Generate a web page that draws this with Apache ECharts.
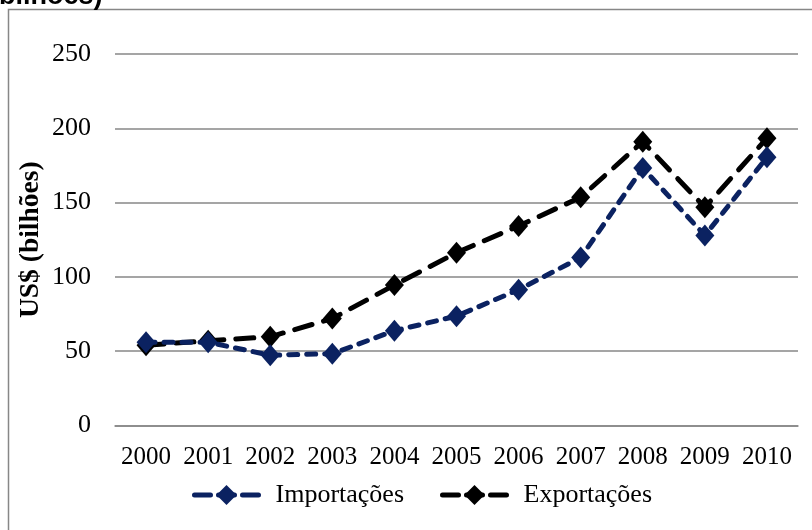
<!DOCTYPE html>
<html>
<head>
<meta charset="utf-8">
<script src="https://cdn.jsdelivr.net/npm/echarts@6/dist/echarts.min.js"></script>
<style>
  html, body { margin: 0; padding: 0; background: #fff; }
  #chart { width: 812px; height: 530px; }
</style>
</head>
<body>
<div id="chart"></div>
<script>
// Anos e valores (US$ bilhões)
const years = ['2000', '2001', '2002', '2003', '2004', '2005', '2006', '2007', '2008', '2009', '2010'];
const importacoes = [56.0, 56.0, 47.3, 48.3, 63.8, 73.6, 91.4, 113.0, 173.3, 127.9, 180.5];
const exportacoes = [54.0, 57.0, 59.7, 72.0, 94.5, 116.3, 134.3, 153.6, 191.0, 146.8, 193.3];
const yTicks = [0, 50, 100, 150, 200, 250];

const serif = '"Liberation Serif", "Times New Roman", serif';
const navy = '#0b2261';
const chart = echarts.init(document.getElementById('chart'));

chart.setOption({
  animation: false,
  backgroundColor: '#fff',
  graphic: [
    {
      type: 'rect',
      shape: { x: 8.5, y: 9.5, width: 900, height: 600 },
      style: { fill: 'none', stroke: '#878787', lineWidth: 1.5 },
      silent: true
    },
    {
      type: 'text',
      x: -1, y: -3,
      style: {
        text: 'bilhões)',
        fontFamily: '"Liberation Sans", Arial, sans-serif',
        fontWeight: 'bold',
        fontSize: 27,
        fill: '#000',
        verticalAlign: 'middle'
      }
    }
  ],
  grid: { left: 115, right: 14, top: 54, bottom: 104.5 },
  legend: {
    bottom: 17,
    left: 187,
    itemWidth: 64,
    itemHeight: 25,
    itemGap: 36,
    textStyle: { fontFamily: serif, fontSize: 26, color: '#000', padding: [0, 0, 0, 12] },
    data: [
      { name: 'Importações', lineStyle: { type: [16, 8], width: 5, cap: 'round' } },
      { name: 'Exportações', lineStyle: { type: [16, 8], width: 5, cap: 'round' } }
    ]
  },
  xAxis: {
    type: 'category',
    data: years,
    boundaryGap: true,
    axisLine: { show: true, lineStyle: { color: '#878787', width: 1.5 } },
    axisTick: { show: false },
    axisLabel: { fontFamily: serif, fontSize: 25, color: '#000', margin: 19, interval: 0 }
  },
  yAxis: {
    type: 'value',
    min: yTicks[0],
    max: yTicks[yTicks.length - 1],
    interval: 50,
    name: 'US$ (bilhões)',
    nameLocation: 'middle',
    nameGap: 70,
    nameMoveOverlap: false,
    nameTextStyle: { fontFamily: serif, fontSize: 27.5, fontWeight: 'bold', color: '#000' },
    axisLine: { show: false },
    axisTick: { show: false },
    splitLine: { lineStyle: { color: '#878787', width: 1.5 } },
    axisLabel: { fontFamily: serif, fontSize: 26, color: '#000', margin: 24 }
  },
  series: [
    {
      name: 'Importações',
      type: 'line',
      data: importacoes,
      z: 3,
      color: navy,
      symbol: 'diamond',
      symbolSize: [19, 22],
      lineStyle: { width: 5, type: [9, 9], cap: 'round', color: navy },
      itemStyle: { color: navy }
    },
    {
      name: 'Exportações',
      type: 'line',
      data: exportacoes,
      z: 2,
      color: '#000',
      symbol: 'diamond',
      symbolSize: [19, 22],
      lineStyle: { width: 5, type: [18, 12], cap: 'round', color: '#000' },
      itemStyle: { color: '#000' }
    }
  ]
});
</script>
</body>
</html>
